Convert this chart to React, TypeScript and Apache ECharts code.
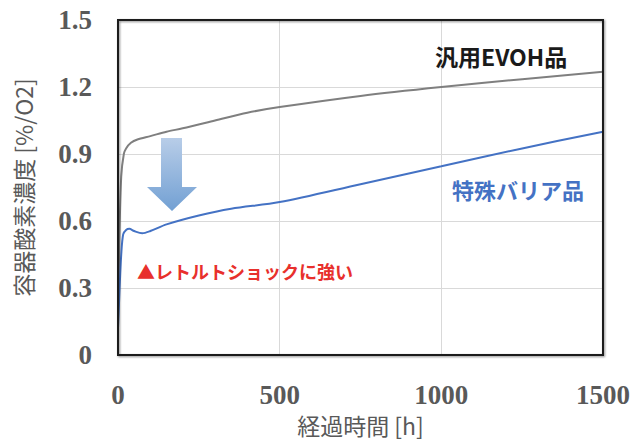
import React, { useEffect, useRef } from "react";
import * as echarts from "echarts";

const xTicks = [0, 500, 1000, 1500];
const yTicks = [0, 0.3, 0.6, 0.9, 1.2, 1.5];

const evohHours = [0, 4, 10, 18, 25, 40, 60, 100, 150, 200, 300, 400, 500, 750, 1000, 1250, 1500];
const evohValues = [0.13, 0.5, 0.8, 0.9, 0.925, 0.95, 0.965, 0.98, 1.0, 1.015, 1.05, 1.085, 1.11, 1.16, 1.2, 1.235, 1.268];

const barrierHours = [0, 5, 10, 16, 25, 35, 50, 75, 100, 150, 250, 350, 500, 750, 1000, 1250, 1500];
const barrierValues = [0.12, 0.3, 0.45, 0.54, 0.56, 0.565, 0.555, 0.545, 0.555, 0.585, 0.625, 0.655, 0.685, 0.765, 0.845, 0.925, 1.0];

const seriesNames = ["汎用EVOH品", "特殊バリア品"];
const noteText = "▲レトルトショックに強い";
const xTitle = "経過時間 [h]";
const yTitle = "容器酸素濃度 [%/O2]";

const zip = (xs: number[], ys: number[]) => xs.map((x, i) => [x, ys[i]]);

export default function App() {
  const ref = useRef<HTMLDivElement>(null);
  useEffect(() => {
    if (!ref.current) return;
    const chart = echarts.init(ref.current, undefined, { renderer: "svg" });
    const tickFont = {
      fontFamily: "Liberation Serif",
      fontWeight: "bold" as const,
      fontSize: 27,
      color: "#595959",
    };
    const nameFont = {
      fontFamily: "Noto Sans CJK JP",
      fontSize: 23,
      color: "#595959",
    };
    chart.setOption({
      animation: false,
      backgroundColor: "#ffffff",
      grid: {
        left: 118,
        right: 38,
        top: 20,
        bottom: 86,
      },
      xAxis: {
        type: "value",
        min: xTicks[0],
        max: xTicks[xTicks.length - 1],
        interval: 500,
        name: xTitle,
        nameLocation: "middle",
        nameGap: 58,
        nameTextStyle: nameFont,
        axisLine: { show: false },
        axisTick: { show: false },
        axisLabel: { ...tickFont, margin: 26, formatter: (v: number) => String(v) },
        splitLine: { show: true, lineStyle: { color: "#d9d9d9", width: 1 } },
      },
      yAxis: {
        type: "value",
        min: yTicks[0],
        max: yTicks[yTicks.length - 1],
        interval: 0.3,
        name: yTitle,
        nameLocation: "middle",
        nameRotate: 90,
        nameGap: 84,
        nameTextStyle: nameFont,
        axisLine: { show: false },
        axisTick: { show: false },
        axisLabel: {
          ...tickFont,
          margin: 26,
          formatter: (v: number) => String(Math.round(v * 10) / 10),
        },
        splitLine: { show: true, lineStyle: { color: "#d9d9d9", width: 1 } },
      },
      series: [
        {
          name: seriesNames[0],
          type: "line",
          data: zip(evohHours, evohValues),
          smooth: 0.3,
          showSymbol: false,
          lineStyle: { color: "#7f7f7f", width: 2 },
          z: 3,
        },
        {
          name: seriesNames[1],
          type: "line",
          data: zip(barrierHours, barrierValues),
          smooth: 0.3,
          showSymbol: false,
          lineStyle: { color: "#4472c4", width: 2 },
          z: 4,
        },
      ],
      graphic: [
        {
          type: "rect",
          shape: { x: 118, y: 20, width: 485, height: 335 },
          style: {
            fill: "none",
            stroke: "#1e1e1e",
            lineWidth: 2,
            shadowColor: "rgba(0,0,0,0.45)",
            shadowBlur: 2,
            shadowOffsetX: 1,
            shadowOffsetY: 1,
          },
          silent: true,
          z: 20,
        },
        {
          type: "polygon",
          shape: {
            points: [
              [161, 138],
              [182, 138],
              [182, 187],
              [197, 187],
              [172, 211],
              [147, 187],
              [161, 187],
            ],
          },
          style: {
            fill: new echarts.graphic.LinearGradient(0, 0, 0, 1, [
              { offset: 0, color: "#b8cde8" },
              { offset: 1, color: "#72a0d3" },
            ]),
          },
          z: 10,
        },
        {
          type: "text",
          left: 435,
          top: 44,
          style: {
            text: seriesNames[0],
            fill: "#1a1a1a",
            font: "bold 23px 'Noto Sans CJK JP'",
          },
          z: 10,
        },
        {
          type: "text",
          left: 452,
          top: 178,
          style: {
            text: seriesNames[1],
            fill: "#4472c4",
            font: "bold 22px 'Noto Sans CJK JP'",
          },
          z: 10,
        },
        {
          type: "text",
          left: 137,
          top: 262,
          style: {
            text: noteText,
            fill: "#e8302c",
            font: "bold 18px 'Noto Sans CJK JP'",
          },
          z: 10,
        },
      ],
    });
    return () => chart.dispose();
  }, []);
  return (
    <div
      ref={ref}
      style={{ position: "fixed", left: 0, top: 0, width: 641, height: 441 }}
    />
  );
}
